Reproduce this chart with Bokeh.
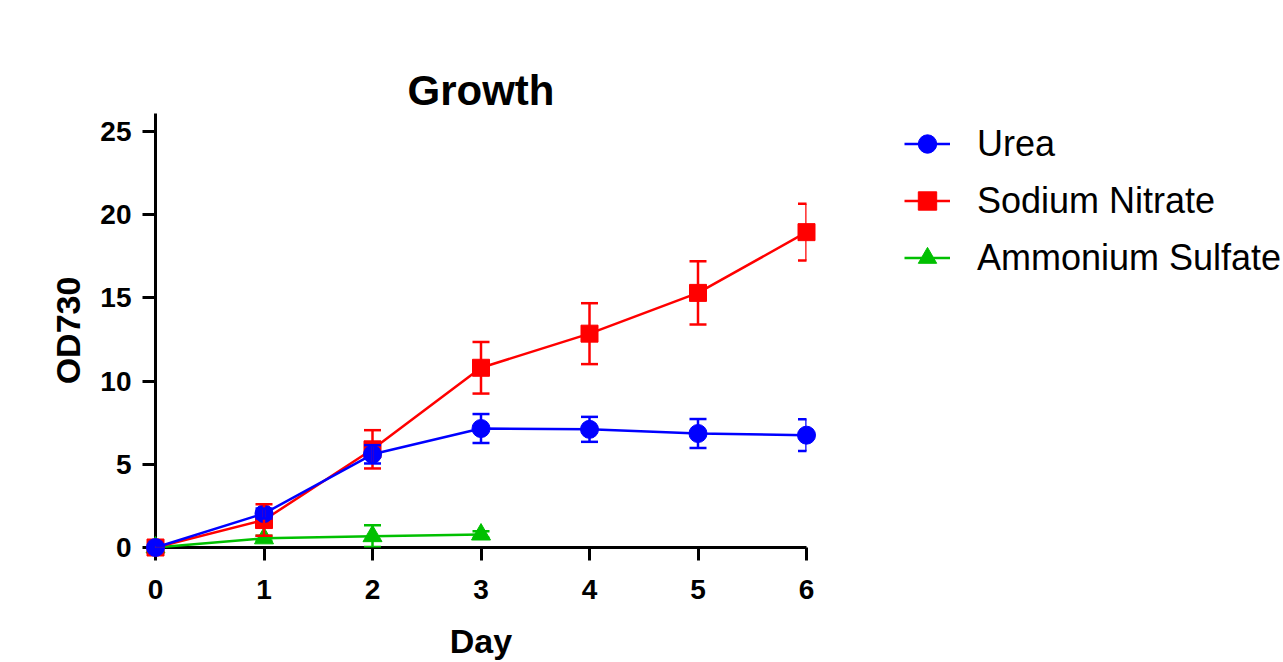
from bokeh.plotting import figure
from bokeh.models import (ColumnDataSource, Whisker, TeeHead, Legend, LegendItem,
                          Range1d, FixedTicker, Title)
from bokeh.embed import file_html
from bokeh.resources import INLINE

days = [0, 1, 2, 3, 4, 5, 6]
urea_mean = [0.0, 2.04, 5.6, 7.15, 7.1, 6.85, 6.75]
urea_err = [0.0, 0.3, 0.55, 0.87, 0.75, 0.87, 0.95]
nitrate_mean = [0.0, 1.65, 5.9, 10.8, 12.85, 15.3, 18.95]
nitrate_err = [0.0, 0.95, 1.15, 1.55, 1.83, 1.9, 1.7]
sulfate_days = [0, 1, 2, 3]
sulfate_mean = [0.0, 0.55, 0.68, 0.78]
sulfate_err = [0.0, 0.15, 0.65, 0.2]

series_names = ["Urea", "Sodium Nitrate", "Ammonium Sulfate"]
y_ticks = [0, 5, 10, 15, 20, 25]
x_ticks = [0, 1, 2, 3, 4, 5, 6]
title_text = "Growth"

FONT = "Liberation Sans"
FW, FH = 651, 434

p = figure(frame_width=FW, frame_height=FH, output_backend="svg", toolbar_location=None,
           x_range=Range1d(0, 6), y_range=Range1d(0, 26.08),
           min_border_left=155, min_border_right=60,
           min_border_top=113, min_border_bottom=100)

# p.title is an invisible spacer next to the frame; the visible title sits above it
p.title.text = "."
p.title.text_font_size = "10px"
p.title.standoff = 34
p.title.text_alpha = 0

p.add_layout(Title(text=title_text, text_font=FONT, text_font_size="42px",
                   text_font_style="bold", text_color="black",
                   align="center", vertical_align="bottom", standoff=0), "above")

p.outline_line_color = None
p.xgrid.grid_line_color = None
p.ygrid.grid_line_color = None

for ax in (p.xaxis[0], p.yaxis[0]):
    ax.axis_line_width = 3
    ax.major_tick_line_width = 3
    ax.major_tick_out = 13
    ax.major_tick_in = 0
    ax.minor_tick_line_color = None
    ax.major_label_text_font = FONT
    ax.major_label_text_font_size = "28px"
    ax.major_label_text_font_style = "bold"
    ax.axis_label_text_font = FONT
    ax.axis_label_text_font_size = "34px"
    ax.axis_label_text_font_style = "bold"
    ax.axis_line_color = "black"
    ax.major_tick_line_color = "black"
    ax.major_label_text_color = "black"
    ax.axis_label_text_color = "black"

p.xaxis[0].ticker = FixedTicker(ticks=x_ticks)
p.yaxis[0].ticker = FixedTicker(ticks=y_ticks)
p.xaxis[0].axis_label = "Day"
p.yaxis[0].axis_label = "OD730"
p.xaxis[0].major_label_standoff = 19
p.yaxis[0].major_label_standoff = 11
p.xaxis[0].axis_label_standoff = 20
p.yaxis[0].axis_label_standoff = 10

def add_series(x, mean, err, color, marker, size):
    lower = [m - e for m, e in zip(mean, err)]
    upper = [m + e for m, e in zip(mean, err)]
    src = ColumnDataSource(dict(x=x, y=mean, lower=lower, upper=upper))
    w = Whisker(base="x", upper="upper", lower="lower", source=src,
                line_color=color, line_width=2.5, level="overlay",
                upper_head=TeeHead(size=17, line_color=color, line_width=2.5),
                lower_head=TeeHead(size=17, line_color=color, line_width=2.5))
    p.add_layout(w)
    lr = p.line("x", "y", source=src, line_color=color, line_width=2.5, level="overlay")
    sr = p.scatter("x", "y", source=src, marker=marker, size=size,
                   fill_color=color, line_color=color, level="overlay")
    return [lr, sr]

r_s = add_series(sulfate_days, sulfate_mean, sulfate_err, "#00C000", "triangle", 19)
r_n = add_series(days, nitrate_mean, nitrate_err, "#FF0000", "square", 17)
r_u = add_series(days, urea_mean, urea_err, "#0000FF", "circle", 18)

legend = Legend(items=[LegendItem(label=series_names[0], renderers=r_u),
                       LegendItem(label=series_names[1], renderers=r_n),
                       LegendItem(label=series_names[2], renderers=r_s)],
                location=(98, 261), padding=0, margin=0, spacing=0,
                glyph_width=46, glyph_height=57, label_standoff=27,
                label_text_font=FONT, label_text_font_size="36px",
                label_text_color="black",
                border_line_color=None, background_fill_alpha=0)
p.add_layout(legend, "right")

open("out.html", "w").write(file_html(p, INLINE))
